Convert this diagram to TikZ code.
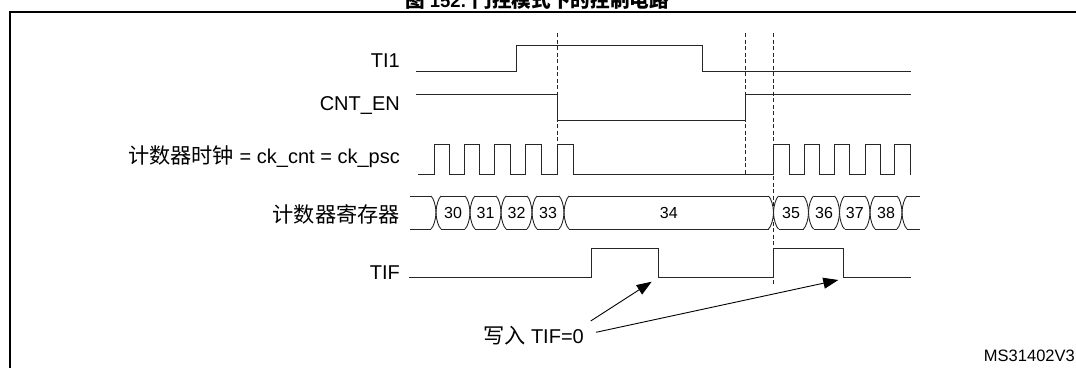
\documentclass[tikz,border=0pt]{standalone}
\usepackage{fontspec}
\setmainfont{Liberation Sans}
\newfontfamily\cjk{Noto Sans CJK SC}[Scale=1.06]
\usetikzlibrary{arrows.meta}
\tikzset{
  sig/.style={line width=0.9pt, line join=miter, color=black!85},
  vdash/.style={line width=0.8pt, dash pattern=on 4pt off 2.5pt, color=black!85},
  frame/.style={line width=2.2pt},
  lbl/.style={inner sep=0pt, font=\fontsize{20}{22}\selectfont},
  num/.style={inner sep=0pt, font=\fontsize{16}{18}\selectfont},
  arr/.style={line width=0.9pt, -{Triangle[length=15pt,width=11pt]}},
}
\newcommand{\busX}[1]{%
  \draw[sig] (#1-5,196) .. controls (#1-2.5,198) and (#1,206) .. (#1,212.5) .. controls (#1,219) and (#1-2.5,227) .. (#1-5,229);
  \draw[sig] (#1+5,196) .. controls (#1+2.5,198) and (#1,206) .. (#1,212.5) .. controls (#1,219) and (#1+2.5,227) .. (#1+5,229);
}
\begin{document}
\begin{tikzpicture}[x=1pt,y=-1pt]
\useasboundingbox (0,0) rectangle (1076,367);
% frame
\draw[frame] (10,367.5) -- (10,12) -- (1077,12);
% title (partly cut off by the top edge)
\node[inner sep=0pt, anchor=base, font=\fontsize{18.5}{21}\selectfont\bfseries] (title) at (537,7) {{\cjk 图} 152. {\cjk 门控模式下的控制电路}};
% labels
\node[lbl, anchor=base east] (lti) at (400,67) {TI1};
\node[lbl, anchor=base east] (lcnt) at (400,110) {CNT\_EN};
\node[lbl, anchor=base east] (lclk) at (400,163) {{\cjk 计数器时钟} = ck\_cnt = ck\_psc};
\node[lbl, anchor=base east] (lreg) at (400,222) {\cjk 计数器寄存器};
\node[lbl, anchor=base east] (ltif) at (400,279) {TIF};
\node[lbl, anchor=base east] (lwr) at (584,343) {{\cjk 写入} TIF=0};
\node[inner sep=0pt, anchor=base east, font=\fontsize{16.5}{18}\selectfont] (code) at (1075,361) {MS31402V3};
% dashed markers
\draw[vdash] (557.7,33) -- (557.7,175);
\draw[vdash] (745,33) -- (745,175);
\draw[vdash] (773.3,33) -- (773.3,285);
% TI1
\draw[sig] (416,71.5) -- (516,71.5) -- (516,45.5) -- (702,45.5) -- (702,71.5) -- (911,71.5);
% CNT_EN
\draw[sig] (416,94.5) -- (557.7,94.5) -- (557.7,120) -- (745,120) -- (745,94.5) -- (911,94.5);
% clock
\draw[sig] (418,174.5) -- (434.3,174.5) -- (434.3,144.7) -- (449.3,144.7) -- (449.3,174.5)
  -- (464.3,174.5) -- (464.3,144.7) -- (479.3,144.7) -- (479.3,174.5)
  -- (494.3,174.5) -- (494.3,144.7) -- (510,144.7) -- (510,174.5)
  -- (525,174.5) -- (525,144.7) -- (541,144.7) -- (541,174.5)
  -- (557.7,174.5) -- (557.7,144.7) -- (573.3,144.7) -- (573.3,174.5)
  -- (773.3,174.5) -- (773.3,144.7) -- (789.3,144.7) -- (789.3,174.5)
  -- (804.3,174.5) -- (804.3,144.7) -- (819.3,144.7) -- (819.3,174.5)
  -- (834.3,174.5) -- (834.3,144.7) -- (849.3,144.7) -- (849.3,174.5)
  -- (865,174.5) -- (865,144.7) -- (880,144.7) -- (880,174.5)
  -- (894.5,174.5) -- (894.5,144.7) -- (910,144.7) -- (910,174.5);
% register bus
\foreach \a/\b in {410/431, 441/465, 475/496, 506/527, 537/559, 569/768.5, 778.5/803.5, 813.5/834.5, 844.5/865, 875/897}{
  \draw[sig] (\a,196) -- (\b,196);
  \draw[sig] (\a,229) -- (\b,229);
}
\draw[sig] (907,196) -- (920,196);
\draw[sig] (907,229) -- (920,229);
\foreach \x in {436,470,501,532,564,773.5,808.5,839.5,870,902}{\busX{\x}}
\foreach \x/\v in {453/30, 485.5/31, 516.5/32, 548/33, 668.75/34, 791/35, 824/36, 854.75/37, 886/38}{
  \node[num] (n\v) at (\x,213) {\v};
}
% TIF
\draw[sig] (409,277) -- (591.7,277) -- (591.7,248.5) -- (658.3,248.5) -- (658.3,277) -- (773.3,277) -- (773.3,248.5) -- (843.3,248.5) -- (843.3,277) -- (911,277);
% arrows
\coordinate (s1) at (590.7,321);
\coordinate (s2) at (596,332.3);
\coordinate (t1) at (651.7,281.7);
\coordinate (t2) at (838.3,280);
\draw[arr] (s1) -- (t1);
\draw[arr] (s2) -- (t2);
\end{tikzpicture}
\end{document}
